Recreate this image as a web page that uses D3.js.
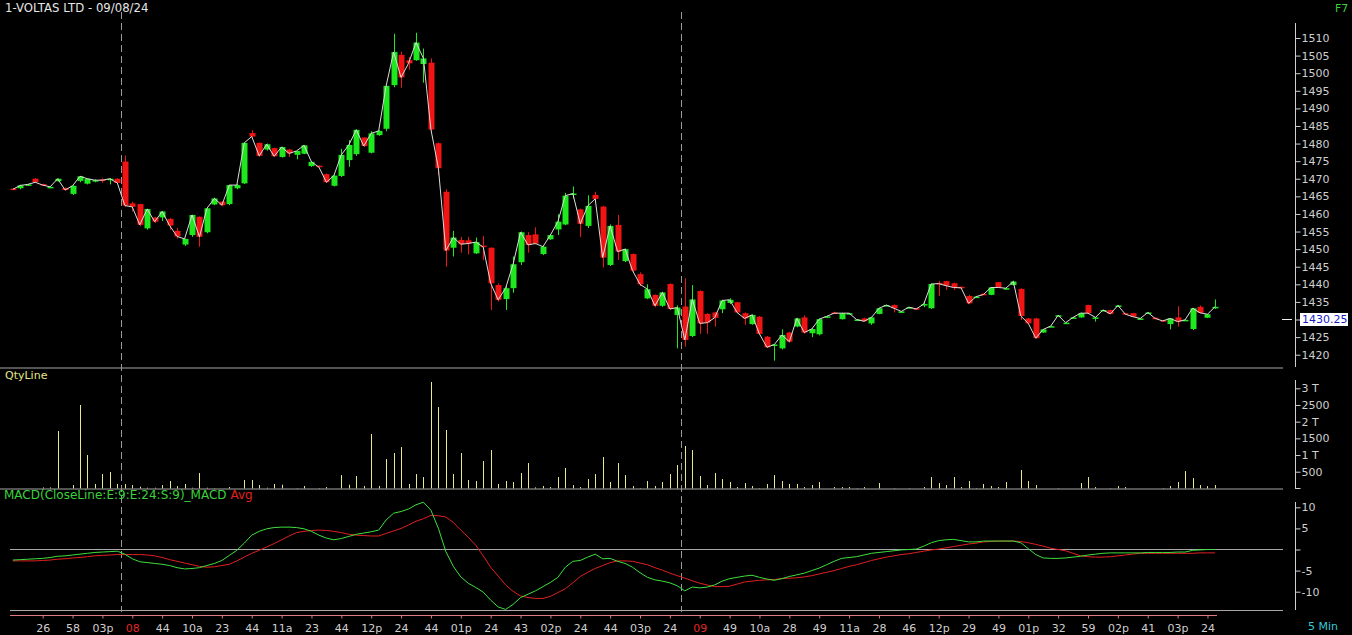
<!DOCTYPE html>
<html><head><meta charset="utf-8">
<script src="https://cdn.jsdelivr.net/npm/d3@7"></script>
<style>
body{margin:0;background:#000;}
svg{display:block;}
text{font-family:"DejaVu Sans",Verdana,sans-serif;font-size:11px;}
</style>
</head><body><svg id="c" width="1352" height="635"></svg>
<script>
const title = "1-VOLTAS LTD - 09/08/24";
const opens = [1467.2,1467.3,1468.1,1470.0,1468.5,1467.5,1469.3,1467.4,1465.7,1469.4,1468.6,1469.2,1469.8,1469.8,1470.0,1474.9,1463.0,1462.8,1455.9,1459.0,1459.0,1458.6,1455.2,1451.3,1454.0,1459.2,1454.8,1462.7,1463.5,1462.8,1467.3,1468.7,1483.0,1480.2,1478.3,1478.7,1476.2,1478.3,1476.8,1477.1,1473.6,1473.7,1471.3,1468.0,1470.8,1475.3,1477.0,1481.7,1477.4,1482.4,1484.2,1496.6,1505.2,1503.7,1503.7,1502.6,1503.0,1480.1,1466.3,1450.4,1452.6,1452.5,1448.8,1451.0,1450.4,1439.8,1435.8,1438.9,1446.3,1454.0,1454.2,1448.6,1452.8,1455.6,1457.0,1465.4,1461.3,1456.6,1465.4,1462.1,1445.5,1456.9,1446.6,1448.6,1442.9,1436.0,1437.0,1433.9,1440.1,1431.3,1433.7,1425.3,1438.1,1431.6,1432.0,1432.9,1434.7,1434.9,1431.8,1428.7,1430.8,1425.1,1422.6,1421.8,1426.3,1428.0,1430.6,1426.1,1425.8,1430.6,1432.0,1430.1,1431.6,1429.7,1430.3,1428.9,1431.6,1433.9,1434.1,1432.1,1433.3,1433.2,1434.2,1433.2,1440.4,1440.9,1440.3,1439.3,1436.7,1436.3,1437.3,1437.0,1440.6,1438.7,1439.8,1438.7,1430.3,1430.3,1426.3,1428.0,1431.1,1429.0,1430.5,1430.6,1434.1,1430.4,1432.6,1432.7,1433.8,1431.8,1431.8,1430.1,1431.8,1430.5,1429.8,1428.7,1430.6,1429.7,1427.3,1433.6,1430.5,1433.3];
const highs = [1467.3,1468.3,1468.5,1470.2,1468.6,1467.8,1470.1,1467.5,1468.1,1470.8,1470.1,1469.8,1470.1,1470.2,1470.1,1476.6,1463.5,1462.9,1461.5,1459.2,1460.8,1458.8,1456.0,1453.0,1459.8,1459.3,1461.7,1464.6,1463.6,1468.3,1468.5,1480.3,1483.8,1480.3,1480.0,1478.8,1479.1,1478.4,1478.0,1479.6,1475.0,1473.8,1471.5,1471.0,1478.5,1481.0,1484.0,1481.8,1483.5,1483.8,1496.5,1511.2,1506.1,1504.6,1511.5,1507.0,1504.2,1480.3,1467.0,1455.2,1453.5,1453.5,1453.3,1453.7,1450.5,1440.3,1439.5,1447.9,1455.0,1454.8,1456.2,1451.0,1454.2,1459.9,1466.0,1467.8,1461.5,1465.3,1466.3,1462.3,1457.0,1459.7,1450.2,1448.8,1443.4,1440.0,1437.1,1437.9,1440.3,1434.0,1441.7,1439.8,1438.3,1431.8,1432.2,1435.6,1436.0,1435.0,1432.0,1431.5,1431.0,1425.3,1423.0,1427.2,1426.5,1430.5,1431.2,1427.5,1430.3,1431.0,1432.2,1431.9,1431.9,1430.1,1430.5,1430.7,1433.3,1434.2,1434.3,1432.4,1433.6,1433.3,1435.1,1440.2,1441.0,1441.0,1440.5,1439.4,1437.0,1436.6,1437.4,1439.2,1440.7,1439.0,1441.0,1438.9,1430.4,1430.5,1427.3,1428.2,1431.3,1429.2,1430.7,1431.9,1434.2,1430.7,1432.8,1432.8,1434.1,1431.9,1431.9,1430.4,1432.1,1430.6,1429.9,1430.4,1433.8,1430.0,1433.3,1434.0,1431.6,1435.7];
const lows = [1466.9,1467.0,1468.0,1468.8,1468.1,1467.4,1469.2,1466.6,1465.4,1469.0,1468.4,1469.0,1468.9,1468.4,1468.7,1462.0,1460.7,1456.5,1455.5,1457.4,1458.0,1455.5,1453.0,1450.9,1453.5,1450.7,1454.5,1462.5,1462.2,1462.5,1467.0,1468.5,1481.8,1476.3,1478.0,1476.2,1476.0,1476.2,1475.5,1477.0,1473.4,1473.2,1468.8,1467.8,1470.5,1473.4,1476.5,1479.0,1477.2,1482.2,1483.5,1496.0,1495.9,1501.0,1503.5,1497.3,1483.5,1471.1,1445.0,1447.9,1449.0,1448.5,1448.6,1446.9,1432.7,1435.1,1432.7,1437.6,1445.5,1449.0,1451.3,1448.3,1452.6,1454.0,1456.8,1464.4,1453.5,1456.0,1463.2,1444.8,1445.2,1446.9,1446.3,1443.5,1439.5,1435.8,1433.5,1433.6,1432.7,1421.8,1422.3,1425.0,1425.9,1425.9,1428.0,1431.8,1434.4,1431.8,1428.5,1428.5,1425.7,1421.9,1418.3,1421.5,1423.5,1427.8,1426.0,1425.0,1425.5,1430.4,1431.7,1430.0,1431.5,1429.6,1429.3,1428.5,1431.5,1433.8,1432.0,1432.0,1433.2,1432.9,1433.5,1433.0,1436.7,1438.4,1438.4,1438.9,1434.3,1436.2,1437.0,1436.9,1439.0,1438.6,1439.7,1429.9,1428.8,1424.5,1426.2,1427.9,1431.0,1428.9,1430.4,1430.5,1431.7,1429.4,1432.5,1431.5,1433.7,1431.4,1430.7,1430.0,1431.7,1430.2,1429.5,1427.2,1428.0,1429.6,1427.0,1431.8,1430.4,1433.0];
const closes = [1467.0,1468.1,1468.4,1469.0,1468.2,1467.7,1470.0,1466.8,1468.0,1470.7,1470.0,1469.6,1469.6,1470.0,1468.8,1462.4,1462.0,1456.9,1461.4,1457.8,1460.7,1456.7,1453.6,1452.9,1459.7,1453.5,1461.6,1464.4,1462.5,1468.2,1468.2,1480.2,1482.0,1476.5,1479.8,1476.4,1479.0,1477.2,1477.9,1479.5,1474.8,1473.3,1469.0,1470.9,1476.8,1479.6,1483.9,1479.3,1482.9,1483.6,1496.4,1506.0,1498.8,1502.8,1508.7,1504.2,1484.0,1473.0,1449.6,1453.3,1451.4,1451.6,1452.0,1450.6,1440.3,1435.6,1438.9,1445.7,1454.8,1451.2,1451.6,1450.7,1454.0,1457.8,1465.2,1465.8,1457.2,1462.3,1464.3,1447.6,1456.6,1449.3,1450.0,1443.9,1440.0,1438.6,1433.9,1437.7,1433.0,1433.4,1424.2,1435.7,1428.9,1429.1,1430.5,1435.4,1435.6,1432.0,1430.3,1431.3,1425.9,1422.1,1422.9,1425.6,1423.7,1430.3,1426.3,1427.3,1430.1,1430.9,1431.8,1431.8,1431.8,1430.0,1429.5,1430.6,1433.2,1434.1,1433.2,1432.3,1433.5,1433.0,1434.4,1440.1,1440.2,1439.6,1439.1,1439.0,1434.6,1436.5,1437.1,1439.1,1439.1,1438.9,1440.8,1431.0,1428.9,1424.7,1427.2,1428.1,1431.2,1429.1,1430.6,1431.8,1431.8,1430.6,1432.7,1431.6,1434.0,1431.5,1430.8,1430.3,1432.0,1430.3,1429.6,1430.3,1429.4,1429.9,1433.2,1431.9,1431.5,1433.6];
const volumes = [0,0,0,0,30,30,1720,0,100,2500,1000,130,430,490,130,130,100,50,20,20,100,220,70,130,20,460,20,10,0,40,0,250,250,100,20,130,110,0,10,70,0,10,40,0,400,110,370,70,1630,70,880,1060,1240,130,430,340,3190,2440,1750,430,1060,250,220,820,1150,130,220,190,460,760,30,70,40,340,610,100,40,280,430,940,190,760,400,70,10,220,70,190,430,700,1270,1150,370,100,460,280,190,40,160,70,10,130,400,220,130,130,40,100,190,0,40,40,40,10,40,0,160,0,10,0,10,0,40,340,160,100,340,40,220,10,130,70,40,190,0,550,220,100,0,0,10,0,0,160,340,40,0,10,70,40,0,0,0,0,10,70,190,520,310,100,70,100];
const macdLine = [-2.5,-2.4,-2.3,-2.2,-2.1,-1.9,-1.6,-1.5,-1.3,-1.1,-0.9,-0.7,-0.6,-0.5,-0.4,-1.1,-2.2,-2.9,-3.1,-3.3,-3.5,-3.8,-4.3,-4.6,-4.5,-4.3,-3.8,-3.3,-2.6,-1.4,-0.2,1.5,3.4,4.3,4.9,5.2,5.3,5.3,5.2,4.9,4.3,3.4,2.7,2.3,2.6,3.1,3.6,3.9,4.2,4.6,7.0,8.6,9.0,9.6,10.6,11.2,9.3,5.0,-0.5,-4.0,-6.5,-8.0,-9.0,-10.1,-12.0,-13.6,-14.2,-13.0,-11.4,-10.6,-9.8,-8.8,-7.8,-6.6,-4.2,-2.8,-2.6,-1.8,-1.1,-2.2,-2.1,-2.8,-3.3,-4.2,-5.5,-6.6,-7.2,-7.5,-7.9,-8.6,-9.8,-8.9,-9.1,-8.9,-8.4,-7.5,-6.9,-6.6,-6.3,-6.1,-6.6,-7.0,-7.3,-6.9,-6.4,-6.0,-5.6,-5.0,-4.4,-3.6,-2.8,-2.1,-1.9,-1.7,-1.3,-0.9,-0.7,-0.5,-0.3,-0.1,0.0,0.1,0.8,1.6,2.1,2.3,2.4,2.1,1.8,1.8,2.0,2.0,2.0,2.0,2.0,1.6,0.2,-1.2,-2.0,-2.1,-2.1,-2.0,-1.8,-1.6,-1.3,-1.1,-0.9,-0.8,-0.8,-0.8,-0.8,-0.8,-0.7,-0.7,-0.7,-0.7,-0.6,-0.6,-0.2,-0.1,0.0,0.0];
const signalLine = [-2.7,-2.7,-2.7,-2.7,-2.6,-2.5,-2.3,-2.2,-2.0,-1.9,-1.7,-1.5,-1.4,-1.3,-1.2,-1.2,-1.2,-1.2,-1.3,-1.5,-1.9,-2.4,-2.8,-3.2,-3.6,-4.0,-4.2,-4.1,-3.8,-3.5,-2.7,-1.8,-0.9,-0.2,0.6,1.4,2.3,3.2,4.0,4.3,4.5,4.6,4.5,4.3,4.0,3.6,3.4,3.3,3.2,3.2,3.8,4.4,5.0,5.8,6.7,7.3,8.1,8.0,7.7,6.4,4.6,2.9,1.0,-1.5,-4.2,-6.3,-8.4,-9.9,-11.0,-11.4,-11.6,-11.6,-11.1,-10.2,-9.3,-7.9,-6.4,-5.4,-4.5,-3.8,-3.1,-2.7,-2.7,-2.8,-3.2,-3.6,-4.3,-4.9,-5.6,-6.2,-6.8,-7.4,-8.0,-8.4,-8.8,-8.8,-8.7,-8.2,-7.7,-7.5,-7.3,-7.2,-7.1,-6.9,-6.8,-6.7,-6.5,-6.2,-5.8,-5.4,-5.0,-4.5,-4.0,-3.6,-3.1,-2.6,-2.2,-1.8,-1.5,-1.2,-1.0,-0.7,-0.4,-0.1,0.1,0.4,0.7,1.0,1.3,1.5,1.8,1.9,2.0,2.0,2.0,1.9,1.6,1.2,0.8,0.3,0.0,-0.3,-0.9,-1.5,-1.7,-1.8,-1.8,-1.7,-1.5,-1.3,-1.1,-0.9,-0.9,-0.9,-0.9,-0.9,-0.9,-0.9,-0.9,-0.8,-0.8,-0.8];
const xTickLabels = ["26","58","03p","08","44","10a","23","44","11a","23","44","12p","24","44","01p","24","43","02p","24","44","03p","24","09","49","10a","28","49","11a","28","46","12p","29","49","01p","32","59","02p","41","03p","24"];
const dayStartTickPos = [3, 22];
const dayStartIndex = [15, 90];
const priceTicks = [1420,1425,1430,1435,1440,1445,1450,1455,1460,1465,1470,1475,1480,1485,1490,1495,1500,1505,1510];
const volTicks = [500,1000,1500,2000,2500,3000];
const macdTicks = [-10,-5,0,5,10];
const lastPrice = 1430.25;

const svg = d3.select("#c");
const n = closes.length;
const x = d3.scaleLinear().domain([0, n-1]).range([12.8, 12.8 + (n-1)*7.4667]);
const yP = d3.scaleLinear().domain([1420,1510]).range([354.7,38]);
const yV = d3.scaleLinear().domain([0,3000]).range([488.4,388.3]);
const yM = d3.scaleLinear().domain([-10,10]).range([591.7,507.3]);
const axisX = 1295.5, plotR = 1283;
const grey = "#a8a8a8", txt = "#cfcfcf";
const green = "#1ee81e", red = "#f01414";
const FONT = "DejaVu Sans, Verdana, sans-serif";

// panel separators
[[368,0],[489,0],[549.5,10],[610.5,10]].forEach(([y,x0]) => {
  svg.append("line").attr("x1",x0).attr("x2",plotR).attr("y1",y).attr("y2",y)
    .attr("stroke",grey).attr("stroke-width",1);
});

// day dividers
dayStartIndex.forEach(i => {
  const xd = Math.round(x(i - 0.5)) + 0.5;
  svg.append("line").attr("x1",xd).attr("x2",xd).attr("y1",12).attr("y2",612)
    .attr("stroke","#9a9a9a").attr("stroke-dasharray","7,4");
});

// candles
const cg = svg.append("g");
d3.range(n).forEach(i => {
  const xc = Math.round(x(i)) + 0.5;
  const up = closes[i] >= opens[i];
  const col = up ? green : red;
  cg.append("line").attr("x1",xc).attr("x2",xc)
    .attr("y1",yP(highs[i])).attr("y2",yP(lows[i])).attr("stroke",col);
  const top = yP(Math.max(opens[i],closes[i])), bot = yP(Math.min(opens[i],closes[i]));
  cg.append("rect").attr("x",xc-3).attr("width",6)
    .attr("y",top).attr("height",Math.max(1.5,bot-top)).attr("fill",col);
});
// close line
svg.append("path").datum(closes)
  .attr("d", d3.line().x((d,i)=>x(i)).y(d=>yP(d)))
  .attr("fill","none").attr("stroke","#dcdcdc").attr("stroke-width",1);

// volume
svg.append("g").selectAll("line").data(volumes).join("line")
  .attr("x1",(d,i)=>Math.round(x(i))+0.5).attr("x2",(d,i)=>Math.round(x(i))+0.5)
  .attr("y1",d=>yV(d)).attr("y2",yV(0))
  .attr("stroke","#eaea8c").attr("stroke-width",1);

// macd
svg.append("path").datum(signalLine)
  .attr("d", d3.line().x((d,i)=>x(i)).y(d=>yM(d)))
  .attr("fill","none").attr("stroke","#e02020").attr("stroke-width",1);
svg.append("path").datum(macdLine)
  .attr("d", d3.line().x((d,i)=>x(i)).y(d=>yM(d)))
  .attr("fill","none").attr("stroke","#3ee03e").attr("stroke-width",1);

// right axes
function styleAxis(g){
  g.select(".domain").remove();
  g.selectAll(".tick line").attr("stroke",txt);
  g.selectAll(".tick text").attr("fill",txt).style("font-family",FONT).style("font-size","11px");
}
function vline(y1,y2){
  svg.append("line").attr("x1",axisX).attr("x2",axisX).attr("y1",y1).attr("y2",y2).attr("stroke",txt);
}
vline(23,367); vline(380,489); vline(502,610);
svg.append("line").attr("x1",axisX).attr("x2",axisX+5).attr("y1",488.5).attr("y2",488.5).attr("stroke",txt);

// price tick at the last-price level is hidden behind the marker box
svg.append("g").attr("transform",`translate(${axisX},0)`)
  .call(d3.axisRight(yP).tickValues(priceTicks).tickSize(5).tickPadding(1)
    .tickFormat(d => Math.abs(d - lastPrice) < 2.5 ? "" : d3.format("d")(d)))
  .call(styleAxis);
svg.append("g").attr("transform",`translate(${axisX},0)`)
  .call(d3.axisRight(yV).tickValues(volTicks).tickSize(5).tickPadding(1)
    .tickFormat(v => v % 1000 === 0 ? (v/1000) + " T" : String(v)))
  .call(styleAxis);
svg.append("g").attr("transform",`translate(${axisX},0)`)
  .call(d3.axisRight(yM).tickValues(macdTicks).tickSize(5).tickPadding(1)
    .tickFormat(v => v === 0 ? "" : String(v)))
  .call(styleAxis);

// last price marker
const yl = Math.round(yP(lastPrice)) + 0.5;
svg.append("line").attr("x1",1282).attr("x2",1292).attr("y1",yl).attr("y2",yl).attr("stroke","#f0f0f0");
svg.append("rect").attr("x",1300).attr("y",yl-6.5).attr("width",48).attr("height",13).attr("fill","#ffffff");
svg.append("text").attr("x",1302).attr("y",yl).attr("dy","0.35em").attr("fill","#1a1ac8").text(lastPrice.toFixed(2));

// bottom time axis
const tickIdx = xTickLabels.map((d,k) => 4*(k+1));
svg.append("line").attr("x1",10).attr("x2",Math.round(x(n-1))+2).attr("y1",615.5).attr("y2",615.5).attr("stroke","#e07a7a");
const xa = svg.append("g").attr("transform","translate(0,615.5)")
  .call(d3.axisBottom(x).tickValues(tickIdx).tickSize(3).tickPadding(6)
    .tickFormat((d,k) => xTickLabels[k]));
xa.select(".domain").remove();
xa.selectAll(".tick line").attr("stroke","#e07a7a");
xa.selectAll(".tick text").attr("fill",(d,k)=> dayStartTickPos.includes(k) ? "#e02828" : txt)
  .style("font-size","11px").style("font-family",FONT);

// labels
svg.append("text").attr("x",5).attr("y",12).attr("fill","#e6e6e6").style("font-size","11.7px").text(title);
svg.append("text").attr("x",1335).attr("y",12).attr("fill","#3ad23a").text("F7");
svg.append("text").attr("x",5).attr("y",379).attr("fill","#e6e68c").text("QtyLine");
const ml = svg.append("text").attr("x",4).attr("y",499).style("font-size","12px");
ml.append("tspan").attr("fill","#3ad23a").text("MACD(CloseLine:E:9:E:24:S:9)_MACD ");
ml.append("tspan").attr("fill","#e02020").text("Avg");
svg.append("text").attr("x",1308).attr("y",630).attr("fill","#38c8d8").text("5 Min");
</script>
</body></html>
